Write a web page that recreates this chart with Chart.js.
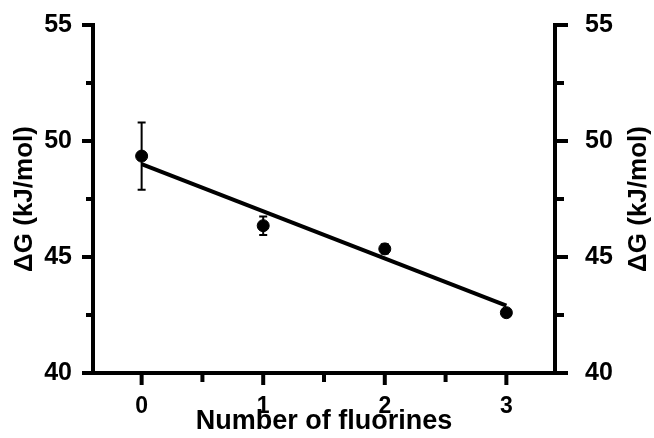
<!DOCTYPE html>
<html>
<head>
<meta charset="utf-8">
<script src="https://cdn.jsdelivr.net/npm/chart.js@4.4.1/dist/chart.umd.min.js"></script>
<style>
  html, body { margin: 0; padding: 0; background: #fff; }
</style>
</head>
<body>
<canvas id="chart" width="654" height="438"></canvas>
<script>
// Data
const nFluorines = [0, 1, 2, 3]
const deltaG = [49.35, 46.35, 45.35, 42.6]
const deltaGErr = [1.45, 0.4, 0.2, 0.15]

// Linear fit line end points
const fitX = [0, 3]
const fitY = [49.0, 42.9]

// Axis ticks
const xMajorTicks = [0, 1, 2, 3]
const xMinorTicks = [0.5, 1.5, 2.5]
const yMajorTicks = [40, 45, 50, 55]
const yMinorTicks = [42.5, 47.5, 52.5]

const axisTitle = "\u0394G (kJ/mol)"
const fontFamily = 'Arial, "Liberation Sans", sans-serif'

// Error bars, tick marks and the right-hand title
const extrasPlugin = {
  id: "extras",
  beforeDatasetsDraw(chart) {
    const ctx = chart.ctx
    const xs = chart.scales.x
    const ys = chart.scales.y
    ctx.save()
    ctx.strokeStyle = "#000"
    ctx.lineWidth = 2
    nFluorines.forEach((n, i) => {
      const px = xs.getPixelForValue(n)
      const top = ys.getPixelForValue(deltaG[i] + deltaGErr[i])
      const bot = ys.getPixelForValue(deltaG[i] - deltaGErr[i])
      ctx.beginPath()
      ctx.moveTo(px, top)
      ctx.lineTo(px, bot)
      ctx.moveTo(px - 4, top)
      ctx.lineTo(px + 4, top)
      ctx.moveTo(px - 4, bot)
      ctx.lineTo(px + 4, bot)
      ctx.stroke()
    })
    ctx.restore()
  },
  afterDraw(chart) {
    const ctx = chart.ctx
    const area = chart.chartArea
    const xs = chart.scales.x
    const ys = chart.scales.y
    ctx.save()
    ctx.strokeStyle = "#000"
    ctx.lineWidth = 4
    ctx.beginPath()
    yMajorTicks.forEach((v) => {
      const py = ys.getPixelForValue(v)
      ctx.moveTo(area.left - 11, py)
      ctx.lineTo(area.left, py)
      ctx.moveTo(area.right, py)
      ctx.lineTo(area.right + 13, py)
    })
    yMinorTicks.forEach((v) => {
      const py = ys.getPixelForValue(v)
      ctx.moveTo(area.left - 7, py)
      ctx.lineTo(area.left, py)
      ctx.moveTo(area.right, py)
      ctx.lineTo(area.right + 9, py)
    })
    xMajorTicks.forEach((v) => {
      const px = xs.getPixelForValue(v)
      ctx.moveTo(px, area.bottom)
      ctx.lineTo(px, area.bottom + 12)
    })
    xMinorTicks.forEach((v) => {
      const px = xs.getPixelForValue(v)
      ctx.moveTo(px, area.bottom)
      ctx.lineTo(px, area.bottom + 9)
    })
    ctx.stroke()

    // right axis title reads bottom to top, like the left one
    ctx.fillStyle = "#000"
    ctx.font = "bold 26px " + fontFamily
    ctx.textAlign = "center"
    ctx.textBaseline = "middle"
    ctx.translate(639, (area.top + area.bottom) / 2)
    ctx.rotate(-Math.PI / 2)
    ctx.fillText(axisTitle, 0, 0)
    ctx.restore()
  },
}

const setTicks = (values) => (scale) => {
  scale.ticks = values.map((v) => ({ value: v }))
}

// fix the width of a y axis and the room it asks for above the plot
const fitYAxis = (width) => (scale) => {
  scale.width = width
  scale.paddingTop = 25
  scale.paddingBottom = 0
}

new Chart(document.getElementById("chart"), {
  data: {
    datasets: [
      {
        type: "scatter",
        data: nFluorines.map((n, i) => ({ x: n, y: deltaG[i] })),
        backgroundColor: "#000",
        borderColor: "#000",
        pointRadius: 6,
        pointHoverRadius: 6,
      },
      {
        type: "line",
        data: fitX.map((x, i) => ({ x: x, y: fitY[i] })),
        borderColor: "#000",
        borderWidth: 4,
        pointRadius: 0,
        fill: false,
      },
    ],
  },
  options: {
    responsive: false,
    animation: false,
    layout: { padding: 0 },
    plugins: {
      legend: { display: false },
      tooltip: { enabled: false },
    },
    scales: {
      x: {
        type: "linear",
        min: -0.4,
        max: 3.4,
        afterBuildTicks: setTicks(xMajorTicks),
        afterFit: (s) => { s.height = 65 },
        grid: { display: false },
        border: { display: true, width: 4, color: "#000" },
        ticks: {
          color: "#000",
          padding: 12,
          font: { family: fontFamily, size: 23, weight: "bold" },
          callback: (v) => String(v),
        },
        title: {
          display: true,
          text: "Number of fluorines",
          color: "#000",
          padding: { top: 0, bottom: 0 },
          font: { family: fontFamily, size: 27, weight: "bold" },
        },
      },
      y: {
        position: "left",
        min: 40,
        max: 55,
        afterBuildTicks: setTicks(yMajorTicks),
        afterFit: fitYAxis(93),
        grid: { display: false },
        border: { display: true, width: 4, color: "#000" },
        ticks: {
          color: "#000",
          padding: 13,
          font: { family: fontFamily, size: 25, weight: "bold" },
          callback: (v) => String(v),
        },
        title: {
          display: true,
          text: axisTitle,
          color: "#000",
          padding: { top: 9, bottom: 0 },
          font: { family: fontFamily, size: 26, weight: "bold" },
        },
      },
      y2: {
        position: "right",
        min: 40,
        max: 55,
        afterBuildTicks: setTicks(yMajorTicks),
        afterFit: fitYAxis(99),
        grid: { display: false },
        border: { display: true, width: 4, color: "#000" },
        ticks: {
          color: "#000",
          padding: 22,
          font: { family: fontFamily, size: 25, weight: "bold" },
          callback: (v) => String(v),
        },
      },
    },
  },
  plugins: [extrasPlugin],
})
</script>
</body>
</html>
